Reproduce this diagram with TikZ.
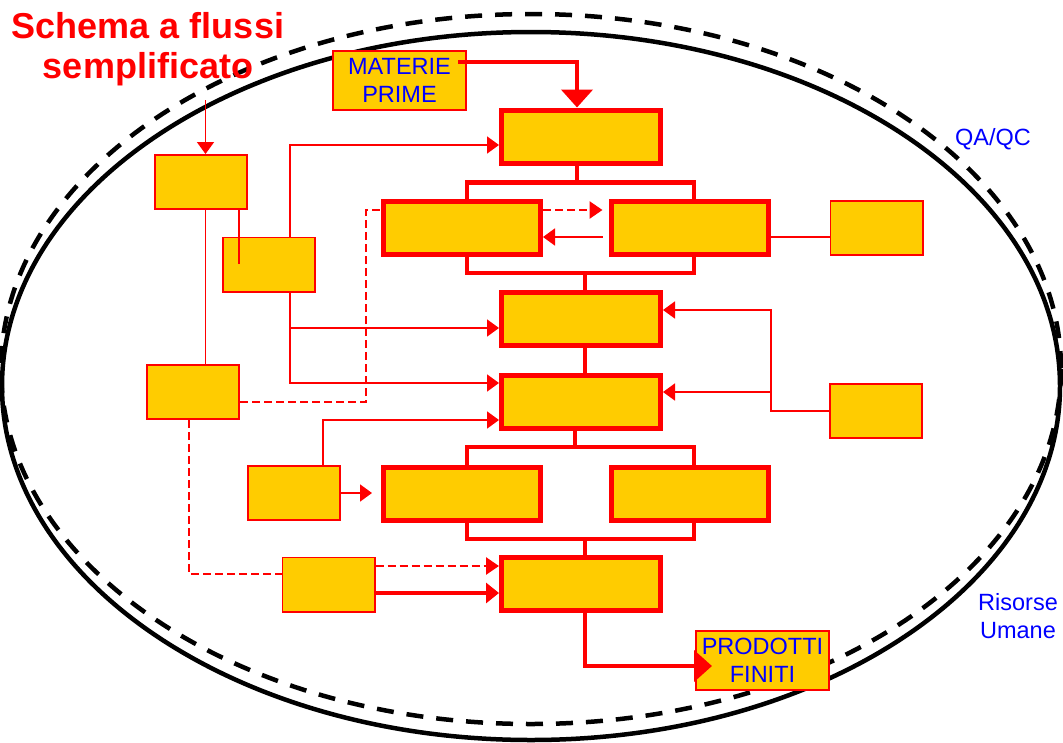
\documentclass[tikz,border=0pt]{standalone}
\usepackage{fontspec}
\setmainfont{Liberation Sans}
\usetikzlibrary{arrows.meta}
\definecolor{boxyellow}{HTML}{FFCC00}
\definecolor{flowred}{HTML}{FF0000}
\definecolor{labelblue}{HTML}{0000FF}

\begin{document}
\begin{tikzpicture}[x=1pt,y=-1pt,
  thickbox/.style={draw=flowred, line width=5pt, fill=boxyellow, inner sep=0pt,
                   minimum width=159pt, minimum height=53pt},
  sidebox/.style={thickbox, minimum width=157pt},
  smallbox/.style={draw=flowred, line width=1.8pt, fill=boxyellow, inner sep=0pt,
                   minimum width=92.2pt, minimum height=54.2pt},
  labelfont/.style={text=labelblue, font=\fontsize{23.5}{28}\selectfont},
  labelbox/.style={smallbox, labelfont, minimum width=133.2pt, minimum height=59.2pt, align=center},
  thinline/.style={draw=flowred, line width=1.8pt},
  thinarrow/.style={thinline, -{Triangle[length=12pt,width=17pt]}},
  busline/.style={draw=flowred, line width=4.5pt},
  bigarrow/.style={busline, -{Triangle[length=18pt,width=31pt]}},
  medarrow/.style={draw=flowred, line width=3.2pt, -{Triangle[length=13pt,width=20pt]}},
  dashline/.style={draw=flowred, line width=2.7pt, dash pattern=on 8pt off 4pt},
  dasharrow/.style={dashline, -{Triangle[length=13pt,width=17pt]}},
  titlefont/.style={text=flowred, font=\fontsize{36}{40}\selectfont\bfseries, anchor=base}
]
\useasboundingbox (0,0) rectangle (1063,742);

% the two enclosing rings
\draw[line width=4.5pt] (531,386) ellipse [x radius=529, y radius=354];
\draw[line width=4.5pt, dash pattern=on 17pt off 13pt] (531,369) ellipse [x radius=530, y radius=355];

% heading
\node[titlefont] (title1) at (148,38) {Schema a flussi};
\node[titlefont] (title2) at (148,78) {semplificato};

% outer labels
\node[labelfont, anchor=base] (qa) at (993,145) {QA/QC};
\node[labelfont, anchor=base] (hr1) at (1018,610) {Risorse};
\node[labelfont, anchor=base] (hr2) at (1018,638) {Umane};

% main process column
\node[thickbox] (A) at (581,136.5) {};
\node[sidebox]  (E) at (462,228) {};
\node[sidebox]  (F) at (689.5,228) {};
\node[thickbox] (C) at (581,319) {};
\node[thickbox] (D) at (581,402) {};
\node[sidebox]  (G) at (462,493.5) {};
\node[sidebox]  (H) at (689.5,493.5) {};
\node[thickbox] (I) at (581,584) {};

% side boxes
\node[smallbox] (B1) at (201,182) {};
\node[smallbox] (B2) at (269,264.5) {};
\node[smallbox] (B3) at (193,392) {};
\node[smallbox] (B4) at (294,493) {};
\node[smallbox] (B5) at (328.5,584.5) {};
\node[smallbox] (R1) at (876.5,228) {};
\node[smallbox] (R2) at (876,411) {};

% input and output
\node[labelbox] (MP) at (399.5,80.5) {MATERIE\\PRIME};
\node[labelbox] (PF) at (762.5,660.5) {PRODOTTI\\FINITI};

% main flow
\draw[bigarrow] ([xshift=-9pt,yshift=18.5pt]MP.east) -| ([xshift=-4pt]A.north);

\coordinate (split1) at (577,182.5);
\draw[busline] ([xshift=-4pt]A.south) -- (split1);
\draw[busline] ([xshift=5pt]E.north) |- (split1) -| ([xshift=4.5pt]F.north);

\coordinate (merge1) at (585,273);
\draw[busline] ([xshift=5pt]E.south) |- (merge1) -| ([xshift=4.5pt]F.south);
\draw[busline] (merge1) -- (merge1 |- C.north);

\draw[busline] ([xshift=4pt]C.south) -- ([xshift=4pt]D.north);

\coordinate (split2) at (575,447);
\draw[busline] ([xshift=-6pt]D.south) -- (split2);
\draw[busline] ([xshift=5pt]G.north) |- (split2) -| ([xshift=4.5pt]H.north);

\coordinate (merge2) at (585,539);
\draw[busline] ([xshift=5pt]G.south) |- (merge2) -| ([xshift=4.5pt]H.south);
\draw[busline] (merge2) -- (merge2 |- I.north);

\draw[bigarrow] ([xshift=4pt]I.south) |- ([xshift=17pt,yshift=-5.5pt]PF.west);

% side connections
\coordinate (tarrow) at (205.5,100);
\draw[thinarrow] (tarrow) -- (tarrow |- B1.north);
\draw[thinline] (B1.south -| tarrow) -- (B3.north -| tarrow);
\draw[thinline] ([xshift=38pt]B1.south) -- ++(0,54);

\draw[thinarrow] ([xshift=21pt]B2.north) |- ([yshift=-8.5pt]A.west);
\draw[thinarrow] ([xshift=21pt]B2.south) |- ([yshift=-9pt]C.west);
\draw[thinarrow] ([xshift=21pt]B2.south) |- ([yshift=19pt]D.west);

\draw[thinarrow] ([xshift=29pt]B4.north) |- ([yshift=-18pt]D.west);
\coordinate (g0) at ([xshift=-9pt]G.west);
\draw[thinarrow] (B4.east) -- (g0 |- B4.east);

\draw[dasharrow] ([yshift=18pt]E.east) -- ([xshift=-6pt,yshift=18pt]F.west);
\draw[thinarrow] ([xshift=-6pt,yshift=-9pt]F.west) -- ([yshift=-9pt]E.east);
\draw[thinline] ([yshift=-9pt]F.east) -- ([yshift=-9pt]R1.west);

\draw[thinarrow] (R2.west) -- ++(-58,0) |- ([yshift=9pt]C.east);
\draw[thinarrow] ([xshift=-58pt]R2.west) |- ([yshift=10pt]D.east);

\draw[dashline] ([yshift=-10pt]B3.east) -- ++(126,0) |- ([yshift=18pt]E.west);
\draw[dashline] ([xshift=-4pt]B3.south) |- ([yshift=10.5pt]B5.west);
\draw[dasharrow] ([yshift=18.5pt]B5.east) -- ([yshift=18pt]I.west);
\draw[medarrow] ([yshift=-8.5pt]B5.east) -- ([yshift=-9pt]I.west);
\end{tikzpicture}
\end{document}
